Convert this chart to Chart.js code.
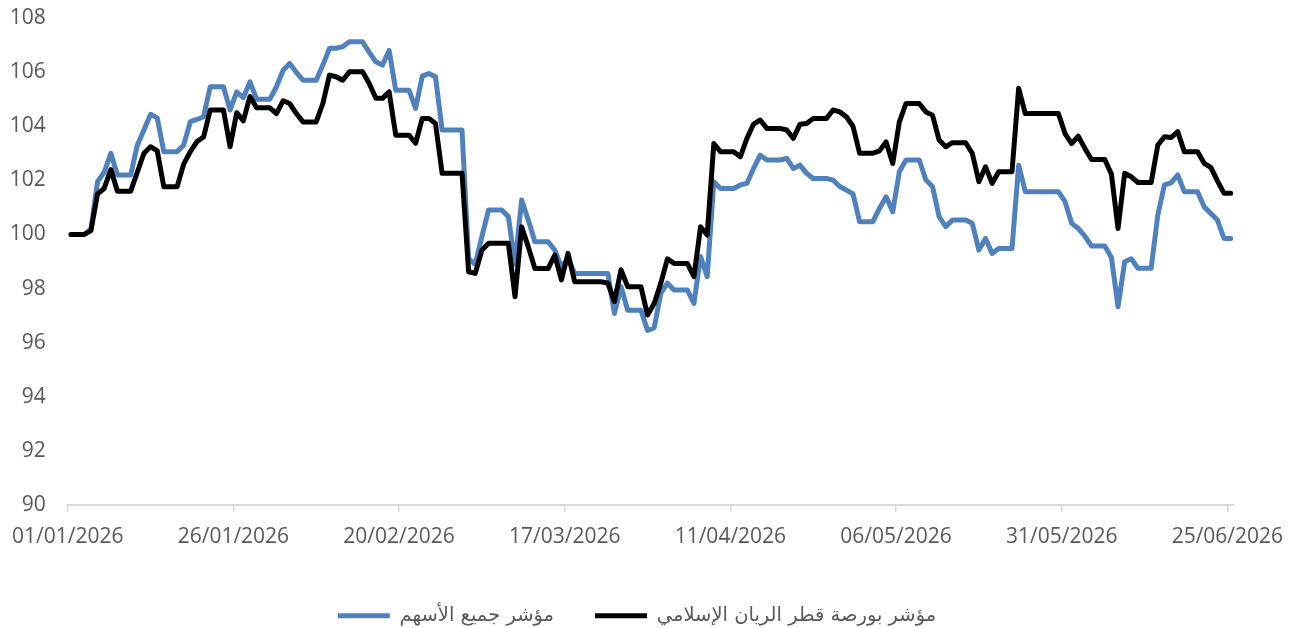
<!DOCTYPE html>
<html>
<head>
<meta charset="utf-8">
<script src="https://cdn.jsdelivr.net/npm/chart.js@4.4.1/dist/chart.umd.min.js"></script>
<style>
html,body{margin:0;padding:0;background:#ffffff;}
#wrap{width:1304px;height:628px;position:relative;}
</style>
</head>
<body>
<div id="wrap"><canvas id="c" width="1304" height="628"></canvas></div>
<script>
// ---- data ----
const startDate = '2026-01-01';
const tickDays = [0, 25, 50, 75, 100, 125, 150, 175];
const tickLabels = ['01/01/2026','26/01/2026','20/02/2026','17/03/2026','11/04/2026','06/05/2026','31/05/2026','25/06/2026'];
const yTickValues = [90, 92, 94, 96, 98, 100, 102, 104, 106, 108];
const seriesNames = ['مؤشر جميع الأسهم', 'مؤشر بورصة قطر الريان الإسلامي'];

// مؤشر جميع الأسهم (daily, 01/01/2026 .. 25/06/2026)
const allShares = [
100.0,100.0,100.0,100.2,101.95,102.3,103.0,102.2,102.2,102.2,
103.3,103.86,104.44,104.31,103.06,103.06,103.06,103.3,104.17,104.25,
104.35,105.46,105.46,105.46,104.6,105.27,105.06,105.64,105.0,105.0,
105.0,105.46,106.07,106.32,105.99,105.7,105.7,105.7,106.26,106.88,
106.88,106.94,107.12,107.12,107.12,106.73,106.38,106.26,106.8,105.33,
105.33,105.33,104.66,105.85,105.95,105.83,103.86,103.86,103.86,103.86,
99.1,98.9,99.92,100.9,100.9,100.9,100.65,98.9,101.27,100.53,
99.73,99.73,99.73,99.42,98.8,99.1,98.56,98.56,98.56,98.56,
98.56,98.56,97.08,98.07,97.2,97.2,97.2,96.45,96.55,97.82,
98.2,97.95,97.95,97.95,97.45,99.18,98.44,101.95,101.7,101.7,
101.7,101.83,101.89,102.44,102.93,102.75,102.75,102.75,102.81,102.44,
102.56,102.26,102.07,102.07,102.07,102.01,101.77,101.64,101.5,100.47,
100.47,100.47,100.96,101.39,100.84,102.32,102.75,102.75,102.75,102.01,
101.77,100.66,100.29,100.53,100.53,100.53,100.41,99.42,99.85,99.3,
99.48,99.48,99.48,102.56,101.58,101.58,101.58,101.58,101.58,101.58,
101.21,100.41,100.22,99.94,99.57,99.57,99.57,99.15,97.33,98.99,
99.1,98.75,98.75,98.75,100.72,101.83,101.91,102.2,101.58,101.58,
101.58,101.02,100.78,100.53,99.85,99.85
];

// مؤشر بورصة قطر الريان الإسلامي
const alRayan = [
100.0,100.0,100.0,100.14,101.5,101.7,102.4,101.6,101.6,101.6,
102.3,103.0,103.24,103.1,101.76,101.76,101.76,102.6,103.06,103.43,
103.6,104.6,104.6,104.6,103.24,104.5,104.2,105.1,104.68,104.68,
104.68,104.47,104.94,104.84,104.47,104.16,104.16,104.16,104.84,105.89,
105.83,105.7,106.01,106.01,106.01,105.58,105.03,105.03,105.27,103.67,
103.67,103.67,103.37,104.29,104.29,104.1,102.26,102.26,102.26,102.26,
98.62,98.56,99.42,99.67,99.67,99.67,99.67,97.7,100.28,99.54,
98.74,98.74,98.74,99.24,98.32,99.3,98.25,98.25,98.25,98.25,
98.25,98.2,97.52,98.69,98.07,98.07,98.07,97.02,97.45,98.2,
99.1,98.93,98.93,98.93,98.44,100.28,99.98,103.36,103.06,103.06,
103.06,102.87,103.55,104.08,104.23,103.92,103.92,103.92,103.86,103.55,
104.07,104.1,104.29,104.29,104.29,104.6,104.53,104.35,104.0,103.0,
103.0,103.0,103.09,103.42,102.62,104.16,104.84,104.84,104.84,104.53,
104.41,103.49,103.24,103.39,103.39,103.39,103.0,101.95,102.5,101.89,
102.32,102.32,102.32,105.4,104.47,104.47,104.47,104.47,104.47,104.47,
103.73,103.36,103.63,103.18,102.77,102.77,102.77,102.23,100.22,102.26,
102.13,101.92,101.92,101.92,103.3,103.61,103.58,103.8,103.06,103.06,
103.06,102.63,102.48,101.98,101.52,101.52
];

// ---- helpers ----
const DAY = 86400000;
const t0 = Date.parse(startDate + 'T00:00:00Z');
const dates = allShares.map((_, i) => new Date(t0 + i * DAY).toISOString().slice(0, 10));
// each daily value sits in the middle of its day slot on a date axis
const toPoints = arr => arr.map((v, i) => ({ x: (Date.parse(dates[i] + 'T00:00:00Z') - t0) / DAY + 0.5, y: v }));

const TICK_FONT = { family: '"Open Sans", "Liberation Sans", sans-serif', size: 21 };
const LEGEND_FONT = { family: '"DejaVu Sans", "Noto Sans", sans-serif', size: 19.5 };
const GREY = '#595959';
const LEGEND_H = 63;

const legendFix = {
  id: 'legendFix',
  beforeLayout(chart) {
    const lg = chart.legend;
    if (lg && !lg._patched) {
      const f = lg.fit;
      lg.fit = function () { f.call(this); this.height = LEGEND_H; };
      lg._patched = true;
    }
  },
  afterLayout(chart) {
    const lg = chart.legend;
    if (lg) { lg.left = 40; }
  }
};

new Chart(document.getElementById('c'), {
  type: 'line',
  data: {
    datasets: [
      {
        label: seriesNames[1],
        data: toPoints(alRayan),
        borderColor: '#000000',
        backgroundColor: '#000000',
        borderWidth: 5,
        borderCapStyle: 'round',
        borderJoinStyle: 'round',
        pointRadius: 0,
        tension: 0
      },
      {
        label: seriesNames[0],
        data: toPoints(allShares),
        borderColor: '#4f81bd',
        backgroundColor: '#4f81bd',
        borderWidth: 5,
        borderCapStyle: 'round',
        borderJoinStyle: 'round',
        pointRadius: 0,
        tension: 0
      }
    ]
  },
  options: {
    responsive: false,
    devicePixelRatio: 1,
    animation: false,
    events: [],
    layout: { padding: { left: 0, right: 70, top: 18, bottom: 0 } },
    scales: {
      x: {
        type: 'linear',
        min: 0,
        max: 176,
        afterBuildTicks: s => { s.ticks = tickDays.map(v => ({ value: v })); },
        afterFit: s => { s.height = 60; },
        ticks: {
          autoSkip: false,
          maxRotation: 0,
          minRotation: 0,
          padding: 12,
          color: GREY,
          font: TICK_FONT,
          callback: (v, i) => tickLabels[i]
        },
        grid: { display: true, drawOnChartArea: false, drawTicks: true, tickLength: 7, color: '#d9d9d9', lineWidth: 1.5 },
        border: { display: true, color: '#d9d9d9', width: 2 }
      },
      y: {
        min: 90,
        max: 108,
        afterBuildTicks: s => { s.ticks = yTickValues.map(v => ({ value: v })); },
        afterFit: s => { s.width = 64.3; s.paddingTop = 0; s.paddingBottom = 0; },
        ticks: { padding: 22, color: GREY, font: TICK_FONT },
        grid: { display: false, drawTicks: false },
        border: { display: false }
      }
    },
    plugins: {
      tooltip: { enabled: false },
      legend: {
        position: 'bottom',
        reverse: true,
        labels: {
          usePointStyle: true,
          pointStyle: 'line',
          pointStyleWidth: 52,
          boxHeight: 5,
          padding: 41,
          color: GREY,
          font: LEGEND_FONT
        }
      }
    }
  },
  plugins: [legendFix]
});
</script>
</body>
</html>
